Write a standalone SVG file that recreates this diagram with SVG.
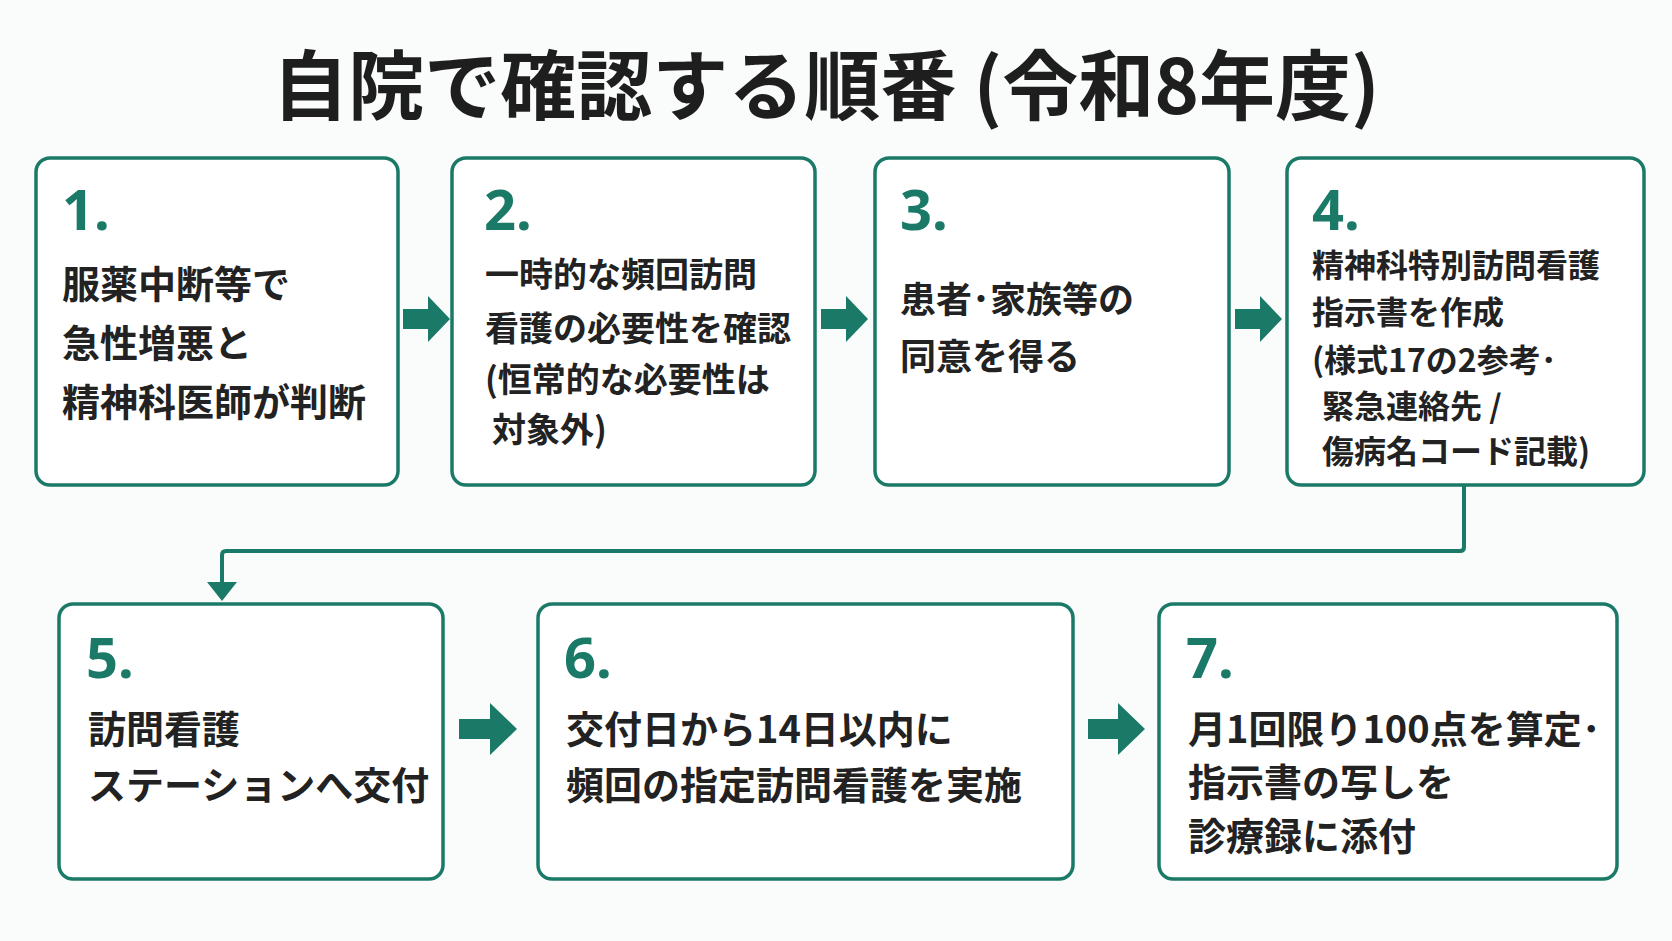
<svg xmlns="http://www.w3.org/2000/svg" width="1672" height="941" viewBox="0 0 1672 941">
<style>
.box{fill:#fff;stroke:#1b7a67;stroke-width:3.5}
.num{font-family:"Noto Sans","Noto Sans CJK JP",sans-serif;font-weight:700;font-size:56px;fill:#1b7a67}
.t{font-family:"Noto Sans CJK JP",sans-serif;font-weight:700;fill:#222}
.ar{fill:#1b7a67}
</style>
<rect width="1672" height="941" fill="#fafbfb"/>
<text x="826" y="114" text-anchor="middle" class="t" style="font-size:76px;fill:#1e1e1e">自院で確認する順番 (令和8年度)</text>
<g id="connectors">
<polygon class="ar" points="403,309 428,309 428,296 450,319 428,342 428,329 403,329"/>
<polygon class="ar" points="821,309 846,309 846,296 868,319 846,342 846,329 821,329"/>
<polygon class="ar" points="1235,309 1260,309 1260,296 1282,319 1260,342 1260,329 1235,329"/>
<polygon class="ar" points="459,719 490,719 490,703 517,729 490,755 490,739 459,739"/>
<polygon class="ar" points="1088,719 1118,719 1118,703 1145,729 1118,755 1118,739 1088,739"/>
<path d="M1464,485 V547 Q1464,551 1460,551 H226 Q222,551 222,555 V584" fill="none" stroke="#1b7a67" stroke-width="4"/>
<polygon class="ar" points="207,582 237,582 222,601"/>
</g>
<g id="n1"><rect class="box" x="36" y="158" width="362" height="327" rx="14"/>
<text class="num" x="62" y="230">1.</text>
<text class="t" font-size="38"><tspan x="62" y="298">服薬中断等で</tspan><tspan x="62" y="357">急性増悪と</tspan><tspan x="62" y="416">精神科医師が判断</tspan></text></g>
<g id="n2"><rect class="box" x="452" y="158" width="363" height="327" rx="14"/>
<text class="num" x="484" y="230">2.</text>
<text class="t" font-size="34"><tspan x="485" y="287">一時的な頻回訪問</tspan><tspan x="485" y="341">看護の必要性を確認</tspan><tspan x="485" y="392">(恒常的な必要性は</tspan><tspan x="492" y="442">対象外)</tspan></text></g>
<g id="n3"><rect class="box" x="875" y="158" width="354" height="327" rx="14"/>
<text class="num" x="900" y="230">3.</text>
<text class="t" font-size="36"><tspan x="900" y="313">患者･家族等の</tspan><tspan x="900" y="370">同意を得る</tspan></text></g>
<g id="n4"><rect class="box" x="1287" y="158" width="357" height="327" rx="14"/>
<text class="num" x="1312" y="230">4.</text>
<text class="t" font-size="32"><tspan x="1312" y="277">精神科特別訪問看護</tspan><tspan x="1312" y="324">指示書を作成</tspan><tspan x="1312" y="372">(様式17の2参考･</tspan><tspan x="1322" y="418">緊急連絡先 /</tspan><tspan x="1322" y="463">傷病名コード記載)</tspan></text></g>
<g id="n5"><rect class="box" x="59" y="604" width="384" height="275" rx="14"/>
<text class="num" x="86" y="678">5.</text>
<text class="t" font-size="38"><tspan x="88" y="743">訪問看護</tspan><tspan x="88" y="799">ステーションへ交付</tspan></text></g>
<g id="n6"><rect class="box" x="538" y="604" width="535" height="275" rx="14"/>
<text class="num" x="564" y="678">6.</text>
<text class="t" font-size="38"><tspan x="566" y="743">交付日から14日以内に</tspan><tspan x="566" y="799">頻回の指定訪問看護を実施</tspan></text></g>
<g id="n7"><rect class="box" x="1159" y="604" width="458" height="275" rx="14"/>
<text class="num" x="1186" y="678">7.</text>
<text class="t" font-size="38"><tspan x="1188" y="743">月1回限り100点を算定･</tspan><tspan x="1188" y="796">指示書の写しを</tspan><tspan x="1188" y="850">診療録に添付</tspan></text></g>
</svg>
